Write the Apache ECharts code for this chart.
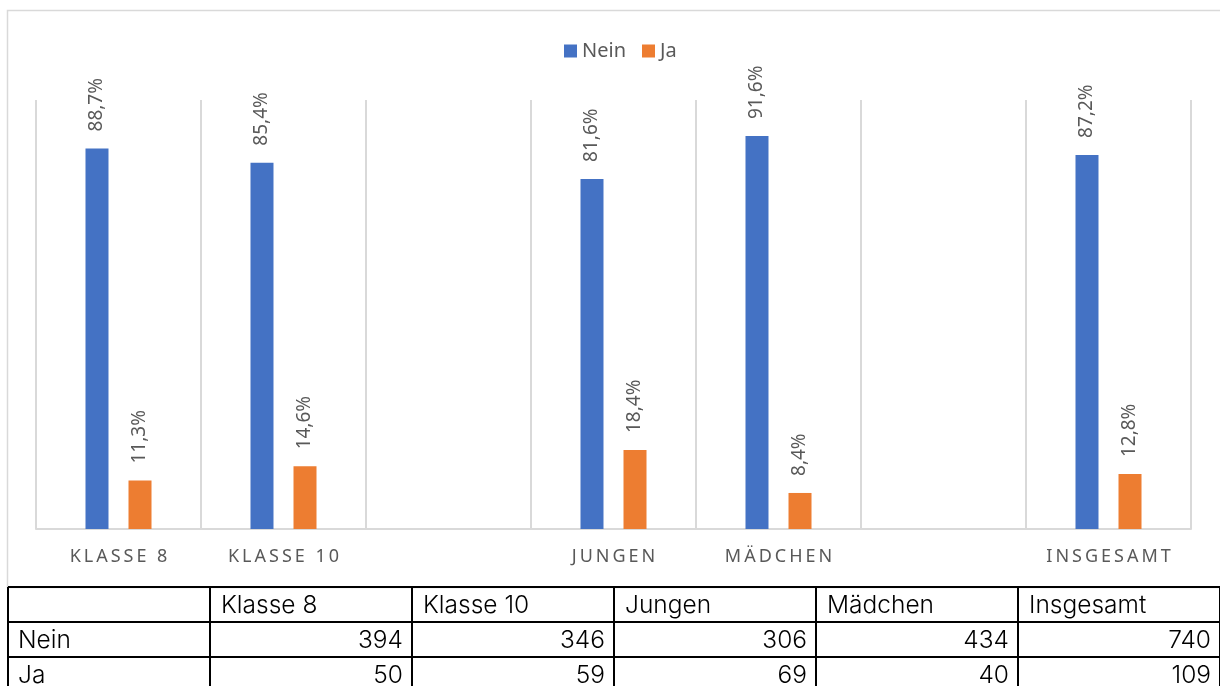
<!DOCTYPE html>
<html>
<head>
<meta charset="utf-8">
<script src="https://cdn.jsdelivr.net/npm/echarts@6/dist/echarts.min.js"></script>
<style>
  html, body { margin: 0; padding: 0; background: #fff; }
  #chart { width: 1220px; height: 686px; }
</style>
</head>
<body>
<div id="chart"></div>
<script>
// Anteile (in %) je Gruppe; leere Kategorien trennen die Gruppenblöcke
const categories = ['Klasse 8', 'Klasse 10', '', 'Jungen', 'Mädchen', '', 'Insgesamt'];
const neinShare = [88.7, 85.4, null, 81.6, 91.6, null, 87.2];
const jaShare   = [11.3, 14.6, null, 18.4, 8.4, null, 12.8];

// Absolute Zahlen für die Datentabelle
const tableColumns = ['Klasse 8', 'Klasse 10', 'Jungen', 'Mädchen', 'Insgesamt'];
const neinCount = [394, 346, 306, 434, 740];
const jaCount   = [50, 59, 69, 40, 109];

const BLUE = '#4472c4';
const ORANGE = '#ed7d31';
const GRID_GRAY = '#d9d9d9';
const LABEL_GRAY = '#595959';

const fmtPct = v => v.toFixed(1).replace('.', ',') + '%';
const spaced = s => s.toUpperCase().split('').join('\u2009');

const chart = echarts.init(document.getElementById('chart'), null, { renderer: 'canvas' });

// Datentabelle unterhalb des Diagramms
const colEdges = [8, 210, 412, 614, 816, 1018, 1220];
const rowEdges = [587, 622, 657, 692];
const tableFont = '300 24.5px Inter, "Noto Sans", sans-serif';
const rows = [
  { label: '', cells: tableColumns.map(String), isHeader: true },
  { label: 'Nein', cells: neinCount.map(String), isHeader: false },
  { label: 'Ja', cells: jaCount.map(String), isHeader: false }
];

const tableGraphics = [];
rows.forEach((row, r) => {
  const yMid = (rowEdges[r] + rowEdges[r + 1]) / 2 + 1;
  tableGraphics.push({
    type: 'text', x: colEdges[0] + 10, y: yMid,
    style: { text: row.label, font: tableFont, fill: '#000', verticalAlign: 'middle' }
  });
  row.cells.forEach((txt, c) => {
    const left = colEdges[c + 1], right = colEdges[c + 2];
    tableGraphics.push({
      type: 'text',
      x: row.isHeader ? left + 11 : right - 9,
      y: yMid,
      style: {
        text: txt, font: tableFont, fill: '#000',
        align: row.isHeader ? 'left' : 'right',
        verticalAlign: 'middle'
      }
    });
  });
});
rowEdges.forEach(y => {
  tableGraphics.push({ type: 'line', shape: { x1: colEdges[0], y1: y, x2: 1220, y2: y }, style: { stroke: '#000', lineWidth: 2 } });
});
colEdges.forEach(x => {
  tableGraphics.push({ type: 'line', shape: { x1: x, y1: rowEdges[0], x2: x, y2: 686 }, style: { stroke: '#000', lineWidth: 2 } });
});

const barLabel = {
  show: true,
  position: 'top',
  rotate: 90,
  align: 'left',
  verticalAlign: 'middle',
  distance: 17,
  color: LABEL_GRAY,
  fontFamily: '"Noto Sans", sans-serif',
  fontSize: 19,
  formatter: p => fmtPct(p.value)
};

chart.setOption({
  animation: false,
  backgroundColor: '#fff',
  legend: {
    data: ['Nein', 'Ja'],
    left: 559,
    top: 36,
    icon: 'rect',
    itemWidth: 13,
    itemHeight: 13,
    itemGap: 16,
    textStyle: { color: LABEL_GRAY, fontSize: 20, fontFamily: '"Noto Sans", sans-serif' }
  },
  grid: { left: 36, right: 29, top: 100, bottom: 157, containLabel: false },
  xAxis: {
    type: 'category',
    data: categories,
    boundaryGap: true,
    axisLine: { show: true, lineStyle: { color: GRID_GRAY, width: 2 } },
    axisTick: { show: false },
    splitLine: { show: true, lineStyle: { color: GRID_GRAY, width: 2 } },
    axisLabel: {
      interval: 0,
      margin: 19,
      color: LABEL_GRAY,
      fontSize: 18,
      fontFamily: '"Noto Sans", sans-serif',
      formatter: v => spaced(v)
    }
  },
  yAxis: {
    type: 'value',
    min: 0,
    max: 100,
    show: false,
    splitLine: { show: false }
  },
  series: [
    {
      name: 'Nein', type: 'bar', data: neinShare,
      barWidth: 23, barGap: '87%',
      itemStyle: { color: BLUE },
      label: barLabel
    },
    {
      name: 'Ja', type: 'bar', data: jaShare,
      barWidth: 23, barGap: '87%',
      itemStyle: { color: ORANGE },
      label: barLabel
    }
  ],
  graphic: [
    {
      type: 'rect', z: -1,
      shape: { x: 7.5, y: 10.5, width: 1220, height: 577 },
      style: { fill: 'none', stroke: GRID_GRAY, lineWidth: 1.5 }
    }
  ].concat(tableGraphics)
});
</script>
</body>
</html>
